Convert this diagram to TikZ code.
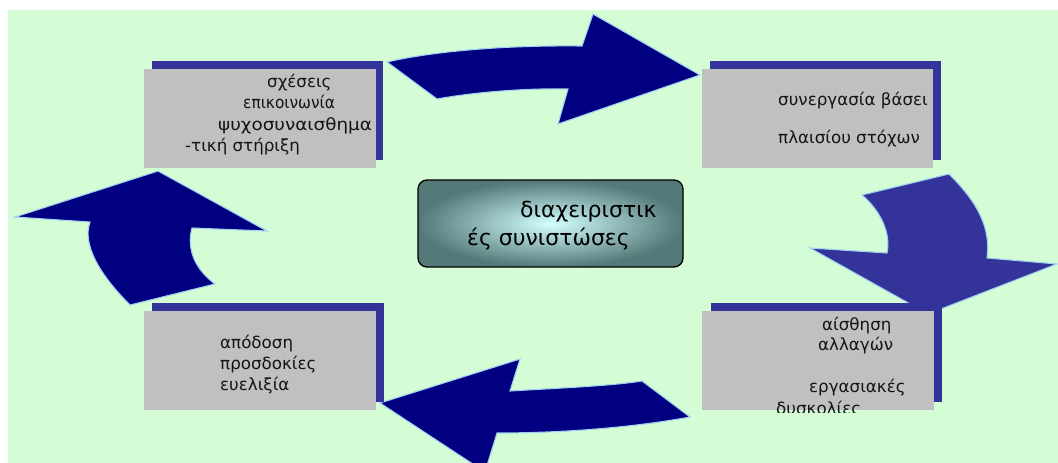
\documentclass[tikz,border=0pt]{standalone}
\usepackage{fontspec}
\setmainfont{DejaVu Sans}
\definecolor{bggreen}{RGB}{213,253,213}
\definecolor{navyarrow}{RGB}{0,0,128}
\definecolor{shadowblue}{RGB}{51,51,153}
\definecolor{boxgray}{RGB}{192,192,192}
\definecolor{arrline}{RGB}{160,208,240}
\definecolor{cinner}{RGB}{210,255,255}
\definecolor{couter}{RGB}{85,120,120}
\definecolor{txt}{RGB}{20,20,20}
\begin{document}
\begin{tikzpicture}[x=1pt,y=-1pt,
  arr/.style={draw=arrline, line width=1.1pt, line join=miter},
  shadowbox/.style={fill=shadowblue, draw=none, anchor=north west, minimum width=231pt, minimum height=99pt, inner sep=0pt},
  graybox/.style={fill=boxgray, draw=none, anchor=north west, minimum width=232pt, minimum height=99pt, inner sep=0pt},
  lbl/.style={anchor=base west, inner sep=0pt, font=\fontsize{16.7}{20}\selectfont, text=txt},
  clbl/.style={anchor=base west, inner sep=0pt, font=\fontsize{22}{26}\selectfont, text=black}]
\useasboundingbox (0,0) rectangle (1058,463);
\clip (0,0) rectangle (1058,463);
\fill[bggreen] (8,10) rectangle (1058,463);

% arrows
\draw[arr, fill=navyarrow] (387,62) -- (437,99) .. controls (470,93) and (520,88) .. (568,89)
  -- (558,124) -- (700,75) -- (593,14) -- (582,46) .. controls (500,45) and (430,52) .. (387,62) -- cycle;
\draw[arr, fill=shadowblue] (862,195) -- (949,174) .. controls (970,195) and (992,222) .. (987,258)
  -- (1057,264) -- (928,314) -- (810,248) -- (887,253) .. controls (891,235) and (882,212) .. (862,195) -- cycle;
\draw[arr, fill=navyarrow] (15,217) -- (158,171) -- (267,231) -- (192,228) .. controls (186,250) and (196,270) .. (215,284)
  -- (130,305) .. controls (100,275) and (82,245) .. (90,222) -- cycle;
\draw[arr, fill=navyarrow] (380,403) -- (520,359) -- (510,391) .. controls (560,388) and (610,386) .. (642,381)
  -- (690,417) .. controls (630,428) and (560,433) .. (497,433) -- (485,472) -- cycle;

% boxes
\node[shadowbox] (tls) at (152,61) {};
\node[graybox] (tl) at (144,69) {};
\node[shadowbox] (trs) at (710,61) {};
\node[graybox, minimum width=231pt] (tr) at (702,69) {};
\node[shadowbox, minimum width=232pt] (bls) at (152,303) {};
\node[graybox] (bl) at (144,311) {};
\node[shadowbox] (brs) at (711,303) {};
\node[graybox] (br) at (702,311) {};

% texts
\node[lbl] (t1) at (267,87) {σχέσεις};
\node[lbl] (t2) at (243,108) {\scalebox{0.92}[1]{επικοινωνία}};
\node[lbl] (t3) at (218,130) {\scalebox{1.1}[1]{ψυχοσυναισθημα}};
\node[lbl] (t4) at (185,151) {-τική στήριξη};

\node[lbl] (r1) at (778,105) {συνεργασία βάσει};
\node[lbl] (r2) at (778,143) {πλαισίου στόχων};

\node[lbl] (b1) at (220,348) {απόδοση};
\node[lbl] (b2) at (220,369) {προσδοκίες};
\node[lbl] (b3) at (220,390) {ευελιξία};

\begin{scope}
\clip (702,311) rectangle (934,412);
\node[lbl] (s1) at (822,330) {αίσθηση};
\node[lbl] (s2) at (818,350) {αλλαγών};
\node[lbl] (s3) at (809,392) {εργασιακές};
\node[lbl] (s4) at (776,414) {δυσκολίες};
\end{scope}

% center
\node[draw=black, line width=1.3pt, rounded corners=9pt, minimum width=265pt, minimum height=87pt,
  inner sep=0pt, inner color=cinner, outer color=couter] (c) at (550.5,223.5) {};
\node[clbl] (c1) at (520,217) {διαχειριστικ};
\node[clbl] (c2) at (467,245) {ές συνιστώσες};
\end{tikzpicture}
\end{document}
